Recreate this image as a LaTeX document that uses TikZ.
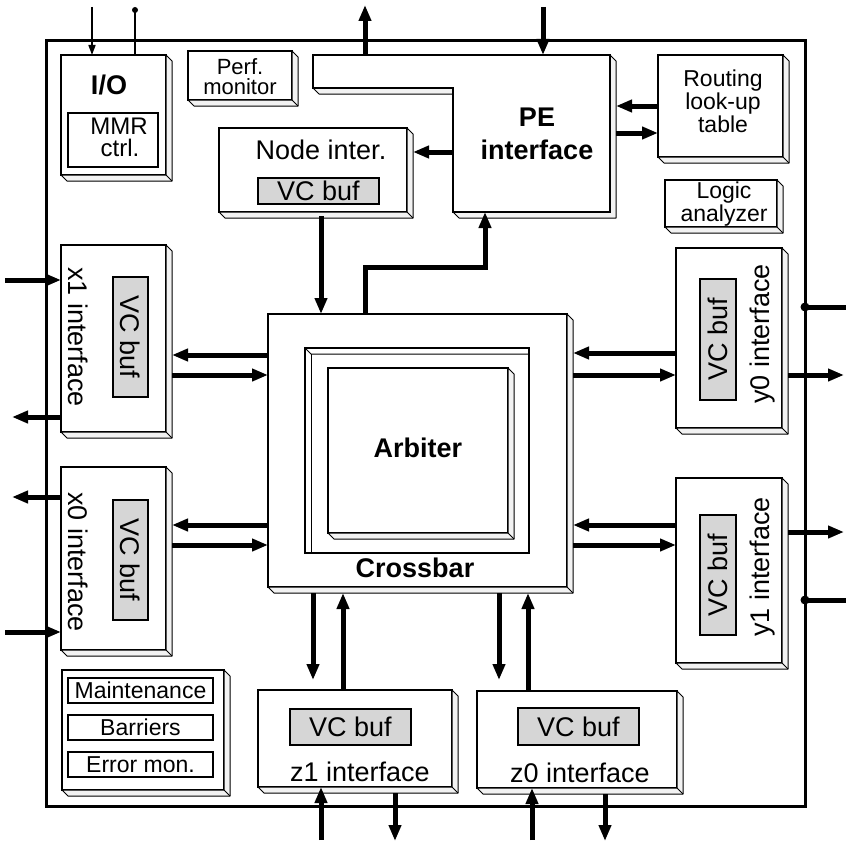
\documentclass[tikz,border=0pt]{standalone}
\usepackage{fontspec}
\setmainfont{Liberation Sans}
\usetikzlibrary{arrows.meta,calc}
\newcommand{\fsN}{\fontsize{27}{30}\selectfont}
\newcommand{\fsS}{\fontsize{23}{23}\selectfont}
\newcommand{\extr}[1]{\filldraw[ext] (#1.north east) -- ++(6,6) -- ($(#1.south east)+(6,6)$) -- ($(#1.south west)+(6,6)$) -- (#1.south west) -- (#1.south east) -- cycle; \draw[ext] (#1.south east) -- ++(6,6);}
\begin{document}
\begin{tikzpicture}[x=1pt,y=-1pt,
 blk/.style={draw,fill=white,line width=1.3pt,inner sep=0pt,outer sep=0pt},
 vcb/.style={draw,fill=black!16,line width=1.3pt,inner sep=0pt,outer sep=0pt,font=\fsN},
 lbl/.style={inner sep=0pt,outer sep=0pt,align=center},
 ext/.style={draw,fill=black!5,line width=1pt,line join=round},
 arr/.style={line width=5pt,-{Triangle[length=16pt,width=12pt]}},
 tarr/.style={line width=1.6pt,-{Triangle[length=10pt,width=7pt]}},
 wire/.style={line width=5pt},
]
\useasboundingbox (0,0) rectangle (846,843);
\fill[white] (0,0) rectangle (846,843);
% chip frame
\node[draw,line width=3pt,minimum width=759,minimum height=765,inner sep=0pt,outer sep=0pt] (chip) at (425.5,423.5) {};

% I/O
\node[blk,minimum width=105,minimum height=120] (io) at (113.5,115) {};
\extr{io}
\node[lbl,font=\fsN\bfseries] (iot) at (109,85) {I/O};
\node[blk,minimum width=90,minimum height=54] (mmr) at (113,140) {};
\node[lbl,font=\fontsize{24}{24}\selectfont] (mmrt) at (119,126) {MMR};
\node[lbl,font=\fontsize{24}{24}\selectfont] (ctrlt) at (120,148) {ctrl.};

% Perf monitor
\node[blk,minimum width=104,minimum height=49] (perf) at (240,75.5) {};
\extr{perf}
\node[lbl,font=\fontsize{22}{22}\selectfont] (perft) at (240,67) {Perf.};
\node[lbl,font=\fontsize{22}{22}\selectfont] (mont) at (240,87) {monitor};

% PE interface (L-shape)
\node[minimum width=157,minimum height=157,inner sep=0pt,outer sep=0pt] (pe) at (531.5,133.5) {};
\node[minimum width=140,minimum height=33,inner sep=0pt,outer sep=0pt] (pew) at (383,71.5) {};
\filldraw[ext] (pe.north east) -- ++(6,6) -- ($(pe.south east)+(6,6)$) -- ($(pe.south west)+(6,6)$) -- (pe.south west) -- (pe.south east) -- cycle;
\filldraw[ext] (pew.south west) -- ++(6,6) -- ($(pew.south east)+(0,6)$) -- (pew.south east) -- cycle;
\filldraw[blk] (pew.north west) -- (pe.north east) -- (pe.south east) -- (pe.south west) -- (pew.south east) -- (pew.south west) -- cycle;
\node[lbl,font=\fontsize{27}{33}\selectfont\bfseries] (pet) at (537,134) {PE\\interface};

% Routing table
\node[blk,minimum width=125,minimum height=102] (rt) at (720.5,106) {};
\extr{rt}
\node[lbl,font=\fsS] (rtt) at (723,101) {Routing\\look-up\\table};

% Logic analyzer
\node[blk,minimum width=112,minimum height=47] (la) at (721,203.5) {};
\extr{la}
\node[lbl,font=\fontsize{23}{21}\selectfont] (lat) at (724,204) {Logic\\analyzer};

% Node interface
\node[blk,minimum width=188,minimum height=84] (ni) at (313,170) {};
\extr{ni}
\node[lbl,font=\fsN] (nit) at (321,150) {Node inter.};
\node[vcb,minimum width=121,minimum height=26] (vbn) at (318.5,191) {VC buf};

% Crossbar
\node[blk,minimum width=299,minimum height=273] (xb) at (417.5,450.5) {};
\extr{xb}
\node[blk,minimum width=224,minimum height=205] (rec) at (417,450.5) {};
\draw[line width=1pt] (rec.north west) -- ++(6,6) coordinate (recin) -- (recin -| rec.east);
\draw[line width=1pt] (recin) -- (recin |- rec.south);
\node[blk,minimum width=180,minimum height=165] (arb) at (418,450.5) {};
\extr{arb}
\node[lbl,font=\fsN\bfseries] (arbt) at (418,448) {Arbiter};
\node[lbl,font=\fsN\bfseries] (xbt) at (415,568) {Crossbar};

% x1 / x0
\node[blk,minimum width=105,minimum height=187] (x1) at (113.5,338.5) {};
\extr{x1}
\node[lbl,font=\fsN,rotate=-90] (x1t) at (78,337) {x1 interface};
\node[vcb,minimum width=120,minimum height=35,rotate=-90] (vbx1) at (130.5,337) {VC buf};
\node[blk,minimum width=105,minimum height=183] (x0) at (113.5,558.5) {};
\extr{x0}
\node[lbl,font=\fsN,rotate=-90] (x0t) at (78,562) {x0 interface};
\node[vcb,minimum width=120,minimum height=35,rotate=-90] (vbx0) at (130.5,560) {VC buf};

% y0 / y1
\node[blk,minimum width=106,minimum height=180] (y0) at (729,338) {};
\extr{y0}
\node[lbl,font=\fsN,rotate=90] (y0t) at (763,334) {y0 interface};
\node[vcb,minimum width=121,minimum height=36,rotate=90] (vby0) at (718,339.5) {VC buf};
\node[blk,minimum width=106,minimum height=185] (y1) at (729,570.5) {};
\extr{y1}
\node[lbl,font=\fsN,rotate=90] (y1t) at (763,567) {y1 interface};
\node[vcb,minimum width=120,minimum height=36,rotate=90] (vby1) at (718,575) {VC buf};

% z1 / z0
\node[blk,minimum width=194,minimum height=97] (z1) at (355,738.5) {};
\extr{z1}
\node[vcb,minimum width=121,minimum height=36] (vbz1) at (350.5,727) {VC buf};
\node[lbl,font=\fsN] (z1t) at (360,772) {z1 interface};
\node[blk,minimum width=200,minimum height=97] (z0) at (577,739.5) {};
\extr{z0}
\node[vcb,minimum width=121,minimum height=37] (vbz0) at (578.5,726.5) {VC buf};
\node[lbl,font=\fsN] (z0t) at (580,773) {z0 interface};

% Maintenance block
\node[blk,minimum width=162,minimum height=120] (mt) at (143,730) {};
\extr{mt}
\node[blk,minimum width=145,minimum height=25,font=\fsS] (mt1) at (140.5,690.5) {Maintenance};
\node[blk,minimum width=145,minimum height=25,font=\fsS] (mt2) at (140.5,727.5) {Barriers};
\node[blk,minimum width=145,minimum height=25,font=\fsS] (mt3) at (140.5,764.5) {Error mon.};

% ---------- connectors ----------
% top
\coordinate (t1) at (92,7);
\draw[tarr] (t1) -- (io.north -| t1);
\coordinate (t2) at (135,10);
\draw[line width=1.6pt] (t2) -- (io.north -| t2);
\fill (t2) circle (3);
\coordinate (t3) at (365,5);
\draw[arr] (pew.north -| t3) -- (t3);
\coordinate (t4) at (543,7);
\draw[arr] (t4) -- (pe.north -| t4);
% PE - routing
\coordinate (r106) at (0,106);
\draw[arr] (rt.west |- r106) -- ($(pe.east |- r106)+(6,0)$);
\coordinate (r133) at (0,133);
\draw[arr] ($(pe.east |- r133)+(6,0)$) -- (rt.west |- r133);
% PE - node interface
\coordinate (r152) at (0,152);
\draw[arr] (pe.west |- r152) -- ($(ni.east |- r152)+(6,0)$);
% node interface - crossbar
\coordinate (c321) at (321,0);
\draw[arr] ($(ni.south -| c321)+(0,4)$) -- (xb.north -| c321);
% crossbar - PE
\coordinate (c365) at (365,267);
\coordinate (c485) at (485,267);
\draw[arr,line join=miter] (xb.north -| c365) -- (c365) -- (c485) -- (pe.south -| c485);
% left externals
\coordinate (l280) at (5,280);
\draw[arr] (l280) -- (x1.west |- l280);
\coordinate (l417) at (12,417);
\draw[arr] (x1.west |- l417) -- (l417);
\coordinate (l497) at (12,497);
\draw[arr] (x0.west |- l497) -- (l497);
\coordinate (l632) at (5,632);
\draw[arr] (l632) -- (x0.west |- l632);
% x1/x0 - crossbar
\coordinate (m355) at (0,355);
\draw[arr] (xb.west |- m355) -- ($(x1.east |- m355)+(6,0)$);
\coordinate (m375) at (0,375);
\draw[arr] ($(x1.east |- m375)+(6,0)$) -- (xb.west |- m375);
\coordinate (m525) at (0,525);
\draw[arr] (xb.west |- m525) -- ($(x0.east |- m525)+(6,0)$);
\coordinate (m545) at (0,545);
\draw[arr] ($(x0.east |- m545)+(6,0)$) -- (xb.west |- m545);
% y0/y1 - crossbar
\coordinate (n353) at (0,353);
\draw[arr] (y0.west |- n353) -- ($(xb.east |- n353)+(6,0)$);
\coordinate (n375) at (0,375);
\draw[arr] ($(xb.east |- n375)+(6,0)$) -- (y0.west |- n375);
\coordinate (n525) at (0,525);
\draw[arr] (y1.west |- n525) -- ($(xb.east |- n525)+(6,0)$);
\coordinate (n545) at (0,545);
\draw[arr] ($(xb.east |- n545)+(6,0)$) -- (y1.west |- n545);
% right externals
\coordinate (e307) at (846,307);
\draw[wire] (chip.east |- e307) -- (e307);
\fill (chip.east |- e307) circle (4.5);
\coordinate (e375) at (844,375);
\draw[arr] ($(y0.east |- e375)+(6,0)$) -- (e375);
\coordinate (e532) at (844,532);
\draw[arr] ($(y1.east |- e532)+(6,0)$) -- (e532);
\coordinate (e600) at (846,600);
\draw[wire] (chip.east |- e600) -- (e600);
\fill (chip.east |- e600) circle (4.5);
% crossbar - z1/z0
\coordinate (b313) at (313,680);
\draw[arr] ($(xb.south -| b313)+(0,6)$) -- (b313);
\coordinate (b343) at (343,0);
\draw[arr] (z1.north -| b343) -- ($(xb.south -| b343)+(0,6)$);
\coordinate (b499) at (499,680);
\draw[arr] ($(xb.south -| b499)+(0,6)$) -- (b499);
\coordinate (b528) at (528,0);
\draw[arr] (z0.north -| b528) -- ($(xb.south -| b528)+(0,6)$);
% bottom externals
\coordinate (d321) at (321,840);
\draw[arr] (d321) -- (z1.south -| d321);
\coordinate (d395) at (395,841);
\draw[arr] ($(z1.south -| d395)+(0,6)$) -- (d395);
\coordinate (d532) at (532,840);
\draw[arr] (d532) -- (z0.south -| d532);
\coordinate (d605) at (605,841);
\draw[arr] ($(z0.south -| d605)+(0,6)$) -- (d605);
\end{tikzpicture}
\end{document}
